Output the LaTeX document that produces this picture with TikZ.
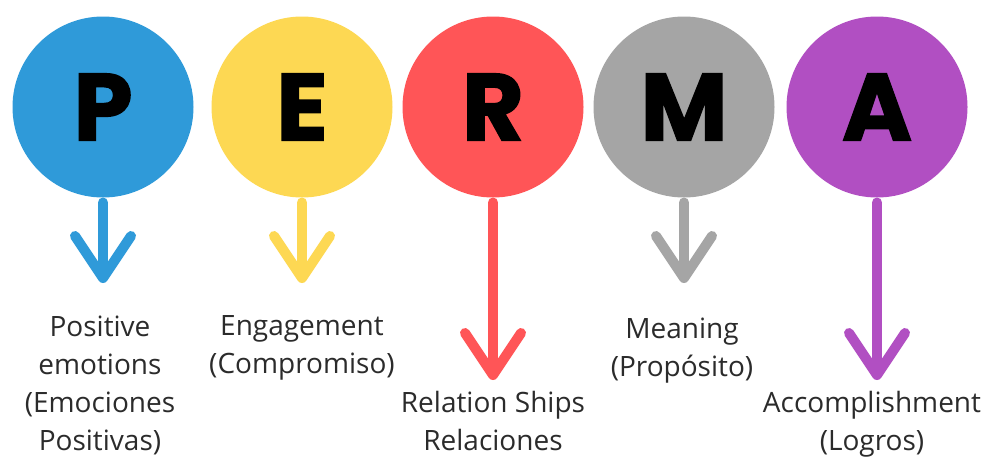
\documentclass[tikz,border=0pt]{standalone}
\usepackage{fontspec}
\setmainfont{Open Sans}
\newfontfamily\letterfont{Poppins}[BoldFeatures={FakeBold=1.5}]
\usetikzlibrary{arrows.meta}

\definecolor{permablue}{HTML}{2F9AD9}
\definecolor{permayellow}{HTML}{FDD853}
\definecolor{permared}{HTML}{FF5557}
\definecolor{permagray}{HTML}{A5A5A5}
\definecolor{permapurple}{HTML}{B14FC2}
\definecolor{textgray}{HTML}{2B2B2B}

\begin{document}
\begin{tikzpicture}[x=1pt,y=1pt,
					line width=10pt,
					letter node/.style={circle,minimum size=181pt,inner sep=0pt,
						text=black,font=\letterfont\bfseries\fontsize{95}{95}\selectfont},
					label node/.style={align=center,anchor=base,text=textgray,
						font=\fontsize{28}{38}\selectfont},
					down arrow/.style={-{Straight Barb[length=42pt,width=56pt,round]},
						line cap=round}]

  \useasboundingbox (0,0) rectangle (987,-458);

  % circles
  \node[letter node,fill=permablue] (P) at (103,-107) {P};
  \node[letter node,fill=permayellow] (E) at (302,-107) {E};
  \node[letter node,fill=permared] (R) at (493,-107) {R};
  \node[letter node,fill=permagray] (M) at (684,-107) {M};
  \node[letter node,fill=permapurple] (A) at (877,-107) {A};

  % arrow tips
  \coordinate (P tip) at (103,-283);
  \coordinate (E tip) at (302,-283);
  \coordinate (R tip) at (493,-380);
  \coordinate (M tip) at (684,-283);
  \coordinate (A tip) at (877,-380);

  \draw[down arrow,permablue] (P) -- (P tip);
  \draw[down arrow,permayellow] (E) -- (E tip);
  \draw[down arrow,permared] (R) -- (R tip);
  \draw[down arrow,permagray] (M) -- (M tip);
  \draw[down arrow,permapurple] (A) -- (A tip);

  % labels (base = last line)
  \node[label node] (P text) at (100,-450) {Positive\\emotions\\(Emociones\\Positivas)};
  \node[label node] (E text) at (302,-373) {Engagement\\(Compromiso)};
  \node[label node] (R text) at (493,-450) {Relation Ships\\Relaciones};
  \node[label node] (M text) at (682,-376) {Meaning\\(Propósito)};
  \node[label node] (A text) at (872,-450) {Accomplishment\\(Logros)};
\end{tikzpicture}
\end{document}
